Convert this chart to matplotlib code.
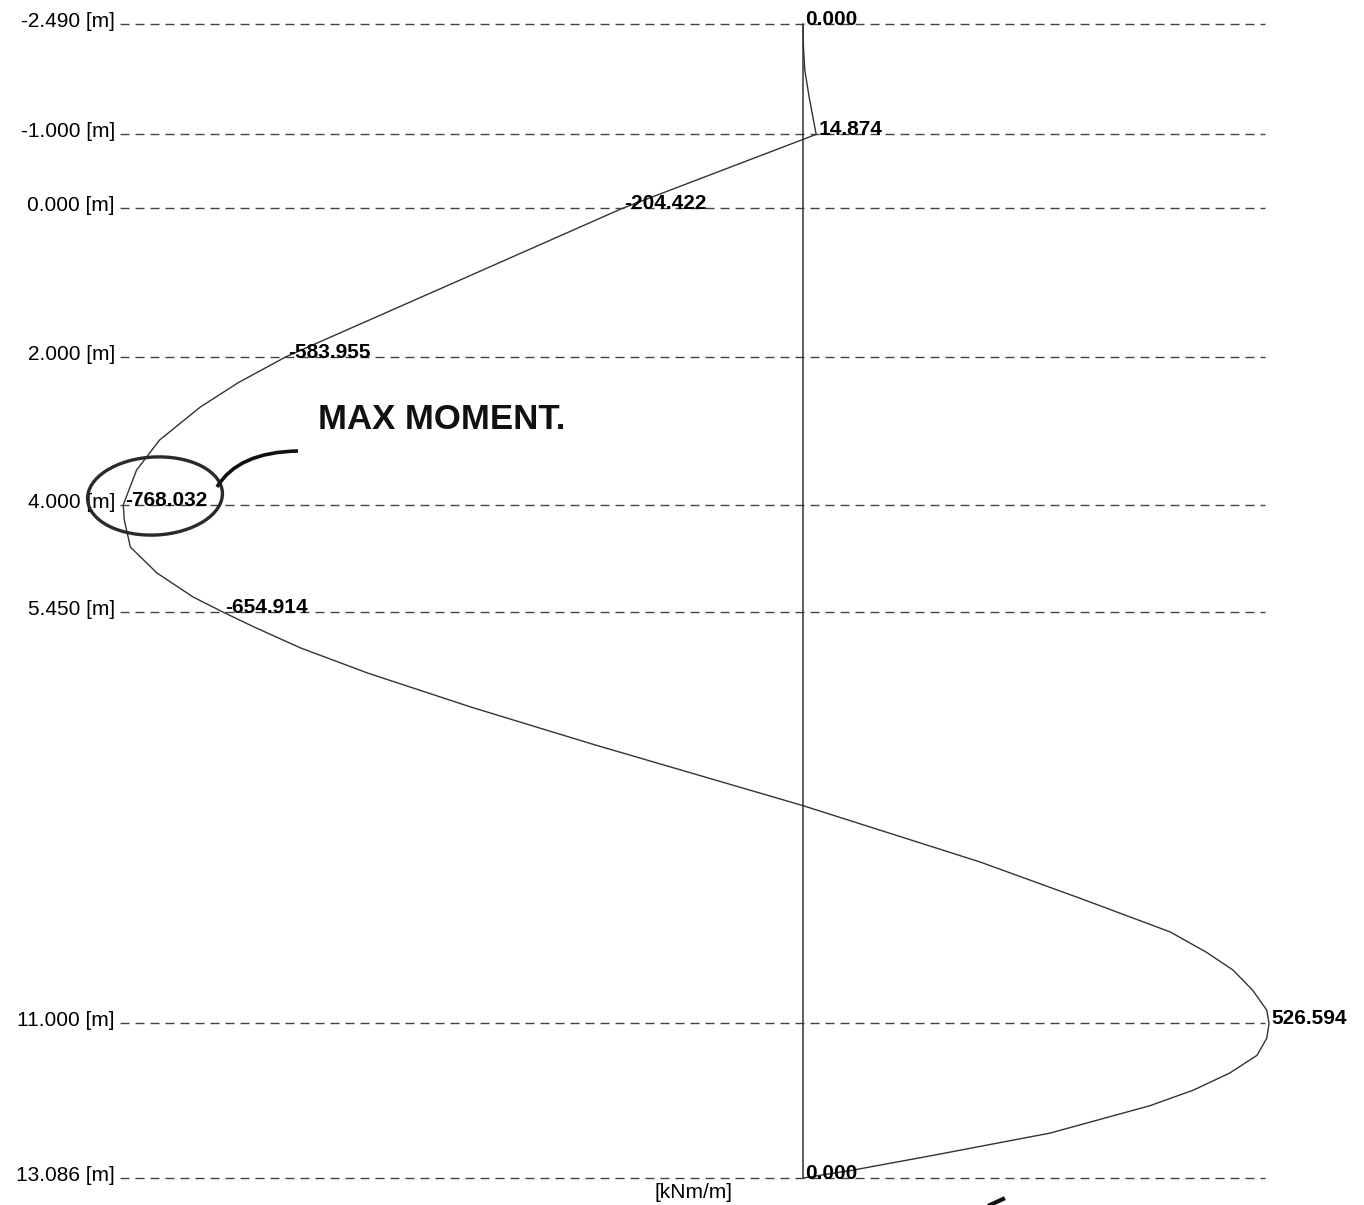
import matplotlib.pyplot as plt
import matplotlib.transforms as mtransforms
from matplotlib.patches import Ellipse, PathPatch
from matplotlib.path import Path

# Bending moment diagram along the wall (depth z in m, moment in kNm/m)
levels = [-2.490, -1.000, 0.000, 2.000, 4.000, 5.450, 11.000, 13.086]
level_moments = [0.000, 14.874, -204.422, -583.955, -768.032, -654.914, 526.594, 0.000]

# Curve
depth = [-2.49, -2.18, -1.87, -1.50, -1.00, 0.00, 1.00, 2.00, 2.35, 2.68, 3.125,
         3.53, 3.935, 4.00, 4.20, 4.57, 4.92, 5.245, 5.45, 5.65, 5.93, 6.27, 6.73,
         7.04, 7.24, 8.06, 8.82, 9.31, 9.765, 10.04, 10.28, 10.55, 10.82,
         11.00, 11.20, 11.43, 11.67, 11.90, 12.11, 12.48, 12.78, 12.98, 13.086]
moment = [0.0, 0.5, 2.0, 7.0, 14.874, -204.422, -394.0, -583.955, -638.0, -681.0, -727.0,
          -753.0, -766.0, -768.032, -767.0, -760.0, -730.0, -689.0, -654.914, -620.0, -568.0,
          -492.0, -375.0, -290.0, -235.0, 0.0, 200.0, 313.0, 415.0, 456.0, 486.0,
          508.0, 524.0, 526.594, 524.0, 513.0, 482.0, 441.0, 392.0, 279.0, 147.0, 56.0, 0.0]

W, H = 1364, 1205
fig = plt.figure(figsize=(W / 100, H / 100), dpi=100)
ax = fig.add_axes([0, 0, 1, 1])
ax.axis('off')

# pixel layout: M=0 at x=803, 0.885 px per kNm/m ; z=-2.49 at y=24, 74.09 px per m
ax.set_xlim(-803 / 0.885, (W - 803) / 0.885)
ax.set_ylim(-2.49 + (H - 24) / 74.09, -2.49 - 24 / 74.09)

dark = '#333333'
font = 'Liberation Sans'

# dashed level lines
for z in levels:
    ax.axhline(z, xmin=120 / W, xmax=1265 / W, color='#444444', lw=1.0,
               dashes=(6.5, 4.3), zorder=1)

# zero axis
ax.vlines(0, levels[0], levels[-1], color=dark, lw=1.1, zorder=2)

# moment curve
ax.plot(moment, depth, color=dark, lw=1.0, zorder=3)

# depth labels
ytrans = mtransforms.offset_copy(ax.get_yaxis_transform(), fig=fig, x=0, y=-3, units='dots')
for z in levels:
    ax.text(115 / W, z, f'{z:.3f} [m]', transform=ytrans, ha='right', va='baseline',
            fontsize=15, family=font, color='black')

# moment value labels
dtrans = mtransforms.offset_copy(ax.transData, fig=fig, x=2, y=-1, units='dots')
for z, m in zip(levels, level_moments):
    ax.text(m, z, f'{m:.3f}', transform=dtrans, ha='left', va='baseline',
            fontsize=15, fontweight='bold', family=font, color='black', zorder=4)

# unit label
fig.text(693 / W, 1 - 1192 / H, '[kNm/m]', ha='center', va='center',
         fontsize=15, family=font, color='black')

# handwritten note (overlay in pixel coordinates)
ann = fig.add_axes([0, 0, 1, 1])
ann.axis('off')
ann.set_xlim(0, W)
ann.set_ylim(H, 0)
ann.text(318, 429, 'MAX MOMENT.', ha='left', va='baseline', fontsize=25,
         fontweight='bold', family=font, color='#111111')
ann.add_patch(Ellipse((155, 496), 135, 78, angle=-3, fill=False, ec='#2a2a2a', lw=2.4))
stroke = Path([(217, 487), (238, 452), (298, 451)], [Path.MOVETO, Path.CURVE3, Path.CURVE3])
ann.add_patch(PathPatch(stroke, fill=False, ec='#111111', lw=2.6))
ann.plot([990, 1003], [1205, 1199], color='#111111', lw=3)

fig.savefig('out.png', dpi=100)
